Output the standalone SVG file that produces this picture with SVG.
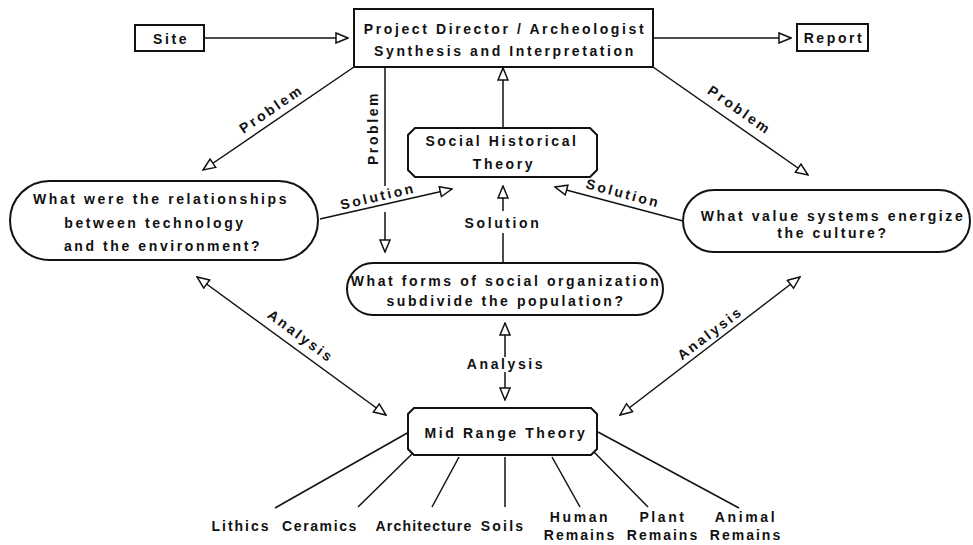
<svg xmlns="http://www.w3.org/2000/svg" width="973" height="545" viewBox="0 0 973 545">
<defs>
<style>
text{font-family:"Liberation Sans",Arial,sans-serif;font-weight:bold;font-size:14px;letter-spacing:2.6px;fill:#111;text-anchor:middle}
.tight{letter-spacing:1.2px}
.box{fill:#fff;stroke:#111;stroke-width:2}
.ln{fill:none;stroke:#111;stroke-width:1.5}
.ar{marker-end:url(#ah)}
.dar{marker-start:url(#ahs);marker-end:url(#ah)}
</style>
<marker id="ah" viewBox="0 0 14 12" refX="13" refY="6" markerWidth="14" markerHeight="12" markerUnits="userSpaceOnUse" orient="auto">
<path d="M1,1 L13,6 L1,11 z" fill="#fff" stroke="#111" stroke-width="1.5"/>
</marker>
<marker id="ahs" viewBox="0 0 14 12" refX="13" refY="6" markerWidth="14" markerHeight="12" markerUnits="userSpaceOnUse" orient="auto-start-reverse">
<path d="M1,1 L13,6 L1,11 z" fill="#fff" stroke="#111" stroke-width="1.5"/>
</marker>
</defs>
<rect width="973" height="545" fill="#fff"/>

<g id="connectors">
<line class="ln ar" x1="204" y1="38" x2="348" y2="38"/>
<line class="ln ar" x1="653" y1="38" x2="791" y2="38"/>
<line class="ln ar" x1="354" y1="67" x2="203" y2="170"/>
<line class="ln ar" x1="653" y1="67" x2="808" y2="175"/>
<line class="ln" x1="385" y1="67" x2="385" y2="186"/>
<line class="ln ar" x1="385" y1="212" x2="385" y2="252"/>
<line class="ln ar" x1="503" y1="128" x2="503" y2="68"/>
<line class="ln" x1="503" y1="263" x2="503" y2="233"/>
<line class="ln ar" x1="503" y1="211" x2="503" y2="186"/>
<line class="ln ar" x1="320" y1="219" x2="452" y2="189"/>
<line class="ln ar" x1="683" y1="221" x2="555" y2="187"/>
<line class="ln dar" x1="197" y1="277" x2="386" y2="415"/>
<line class="ln dar" x1="800" y1="277" x2="620" y2="415"/>
<line class="ln ar" x1="505" y1="357" x2="505" y2="323"/>
<line class="ln ar" x1="505" y1="372" x2="505" y2="400"/>
<line class="ln" x1="409" y1="432" x2="275" y2="508"/>
<line class="ln" x1="414" y1="452" x2="358" y2="507"/>
<line class="ln" x1="459" y1="457" x2="432" y2="507"/>
<line class="ln" x1="505" y1="457" x2="505" y2="507"/>
<line class="ln" x1="552" y1="457" x2="580" y2="507"/>
<line class="ln" x1="594" y1="452" x2="648" y2="507"/>
<line class="ln" x1="598" y1="432" x2="739" y2="508"/>
<text transform="translate(274,113) rotate(-34.5)">Problem</text>
<text transform="translate(737,114) rotate(35)">Problem</text>
<text transform="translate(378,128) rotate(-90)">Problem</text>
<text x="503" y="228">Solution</text>
<text transform="translate(379,201) rotate(-13)">Solution</text>
<text transform="translate(622,198) rotate(15)">Solution</text>
<text transform="translate(298,340) rotate(36.5)">Analysis</text>
<text transform="translate(713,337) rotate(-37.5)">Analysis</text>
<text x="506" y="369">Analysis</text>
</g>

<g id="site">
<rect class="box" x="135" y="25" width="69" height="26"/>
<text x="171" y="44">Site</text>
</g>
<g id="project">
<rect class="box" x="354" y="9" width="299" height="58"/>
<text x="505" y="34">Project Director / Archeologist</text>
<text x="505" y="56">Synthesis and Interpretation</text>
</g>
<g id="report">
<rect class="box" x="797" y="24" width="71" height="27"/>
<text x="834" y="43">Report</text>
</g>
<g id="social-historical">
<path class="box" d="M415,128 H590 L597,135 V170 L590,177 H415 L408,170 V135 Z"/>
<text x="502" y="146">Social  Historical</text>
<text x="504" y="169">Theory</text>
</g>
<g id="technology">
<rect class="box" x="10" y="181" width="308" height="79" rx="39.5"/>
<text x="161" y="204">What were the relationships</text>
<text x="155" y="228">between technology</text>
<text x="163" y="251">and the environment?</text>
</g>
<g id="social-organization">
<rect class="box" x="347" y="263" width="316" height="52" rx="26"/>
<text x="506" y="286">What forms of social organization</text>
<text x="506" y="306">subdivide the population?</text>
</g>
<g id="value-systems">
<rect class="box" x="683" y="190" width="287" height="62" rx="31"/>
<text x="833" y="221">What value systems energize</text>
<text x="833" y="238">the culture?</text>
</g>
<g id="mid-range">
<path class="box" d="M414,408 H591 L597,414 V449 L591,455 H414 L408,449 V414 Z"/>
<text x="506" y="438">Mid Range Theory</text>
</g>
<g id="lithics"><text x="241" y="531" style="letter-spacing:2px">Lithics</text></g>
<g id="ceramics"><text x="320" y="531" style="letter-spacing:1.6px">Ceramics</text></g>
<g id="architecture"><text class="tight" x="424" y="531">Architecture</text></g>
<g id="soils"><text x="503" y="531" style="letter-spacing:2.2px">Soils</text></g>
<g id="human"><text x="580" y="522">Human</text><text x="580" y="540" style="letter-spacing:2px">Remains</text></g>
<g id="plant"><text x="663" y="522">Plant</text><text x="663" y="540" style="letter-spacing:2px">Remains</text></g>
<g id="animal"><text x="746" y="522">Animal</text><text x="746" y="540" style="letter-spacing:2px">Remains</text></g>
</svg>
